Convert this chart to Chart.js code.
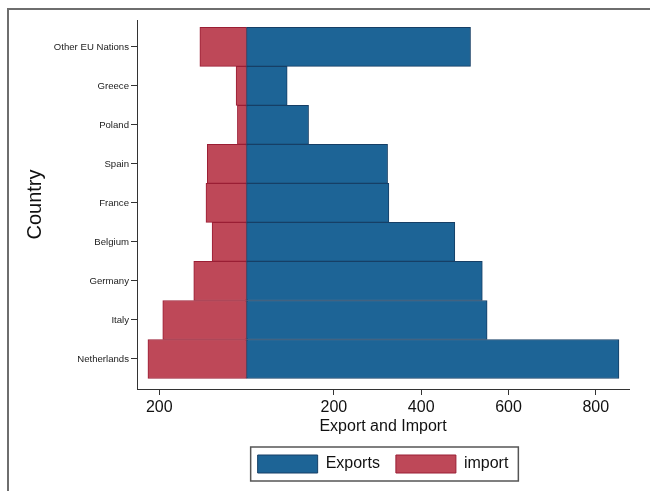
<!DOCTYPE html>
<html>
<head>
<meta charset="utf-8">
<script src="https://cdn.jsdelivr.net/npm/chart.js@4"></script>
<style>
  body { margin: 0; background: #fff; }
  #wrap { position: relative; width: 650px; height: 491px; }
  #frame { position: absolute; left: 7px; top: 8px; right: 0; bottom: 0; border-top: 2px solid #6e6e6e; border-left: 2px solid #6e6e6e; pointer-events: none; }
  canvas { position: absolute; left: 0; top: 0; }
</style>
</head>
<body>
<div id="wrap">
  <canvas id="myChart" width="650" height="491"></canvas>
  <div id="frame"></div>
</div>
<script>
  // categories top to bottom
  const countries = ['Other EU Nations', 'Greece', 'Poland', 'Spain', 'France', 'Belgium', 'Germany', 'Italy', 'Netherlands'];
  const exportVals = [513, 93, 142, 323, 326, 477, 540, 551, 853];
  const importVals = [-107, -24, -21, -90, -93, -79, -121, -192, -226];
  const xTicks = [-200, 200, 400, 600, 800];

  // linear index axis so the axis line can run past the first/last bar
  const pos = (i) => countries.length - i;

  const legendBox = {
    id: 'legendBox',
    afterDraw(chart) {
      const hb = chart.legend.legendHitBoxes;
      if (!hb || !hb.length) return;
      const first = hb[0], last = hb[hb.length - 1];
      const cy = first.top + first.height / 2;
      const ctx = chart.ctx;
      ctx.save();
      ctx.strokeStyle = '#555';
      ctx.lineWidth = 1.5;
      ctx.strokeRect(first.left - 7, cy - 17, last.left + last.width - first.left + 17, 34);
      ctx.restore();
    }
  };

  const ctx = document.getElementById('myChart');
  new Chart(ctx, {
    type: 'bar',
    data: {
      datasets: [{
        label: 'Exports',
        data: exportVals.map((v, i) => ({x: v, y: pos(i)})),
        backgroundColor: '#1d6496',
        borderColor: '#163f66',
        borderWidth: 1,
        borderSkipped: false
      },
      {
        label: 'import',
        data: importVals.map((v, i) => ({x: v, y: pos(i)})),
        backgroundColor: '#be4858',
        borderColor: '#9a1e34',
        borderWidth: 1,
        borderSkipped: false
      }]
    },
    options: {
      responsive: false,
      animation: false,
      indexAxis: 'y',
      barPercentage: 1,
      categoryPercentage: 1,
      layout: { padding: { top: 20, right: 21, left: 0, bottom: 8 } },
      plugins: {
        tooltip: { enabled: false },
        legend: {
          position: 'bottom',
          fullSize: false,
          labels: {
            boxWidth: 60,
            boxHeight: 18,
            padding: 16,
            color: '#111',
            font: { family: 'Liberation Sans, Arial, sans-serif', size: 16 }
          }
        }
      },
      scales: {
        x: {
          type: 'linear',
          stacked: true,
          min: -251,
          max: 876,
          afterBuildTicks: (scale) => { scale.ticks = xTicks.map(v => ({value: v})); },
          afterFit: (scale) => { scale.height = 50; },
          ticks: {
            padding: 3,
            color: '#111',
            font: { family: 'Liberation Sans, Arial, sans-serif', size: 16 },
            callback: (v) => Math.abs(v)
          },
          grid: { drawOnChartArea: false, tickLength: 6, color: '#333' },
          border: { display: true, color: '#333', width: 1 },
          title: {
            display: true,
            text: 'Export and Import',
            color: '#111',
            padding: { top: 0, bottom: 3 },
            font: { family: 'Liberation Sans, Arial, sans-serif', size: 16 }
          }
        },
        y: {
          type: 'linear',
          stacked: true,
          offset: false,
          min: 0.23,
          max: 9.69,
          afterBuildTicks: (scale) => { scale.ticks = countries.map((c, i) => ({value: pos(i)})); },
          afterFit: (scale) => { scale.width = 137; },
          ticks: {
            padding: 2,
            color: '#222',
            font: { family: 'Liberation Sans, Arial, sans-serif', size: 9.6 },
            callback: (v) => countries[countries.length - v]
          },
          grid: { offset: false, drawOnChartArea: false, tickLength: 6, color: '#333' },
          border: { display: true, color: '#333', width: 1 },
          title: {
            display: true,
            text: 'Country',
            color: '#111',
            padding: { top: 23, bottom: 0 },
            font: { family: 'Liberation Sans, Arial, sans-serif', size: 20 }
          }
        }
      }
    },
    plugins: [legendBox]
  });
</script>
</body>
</html>
